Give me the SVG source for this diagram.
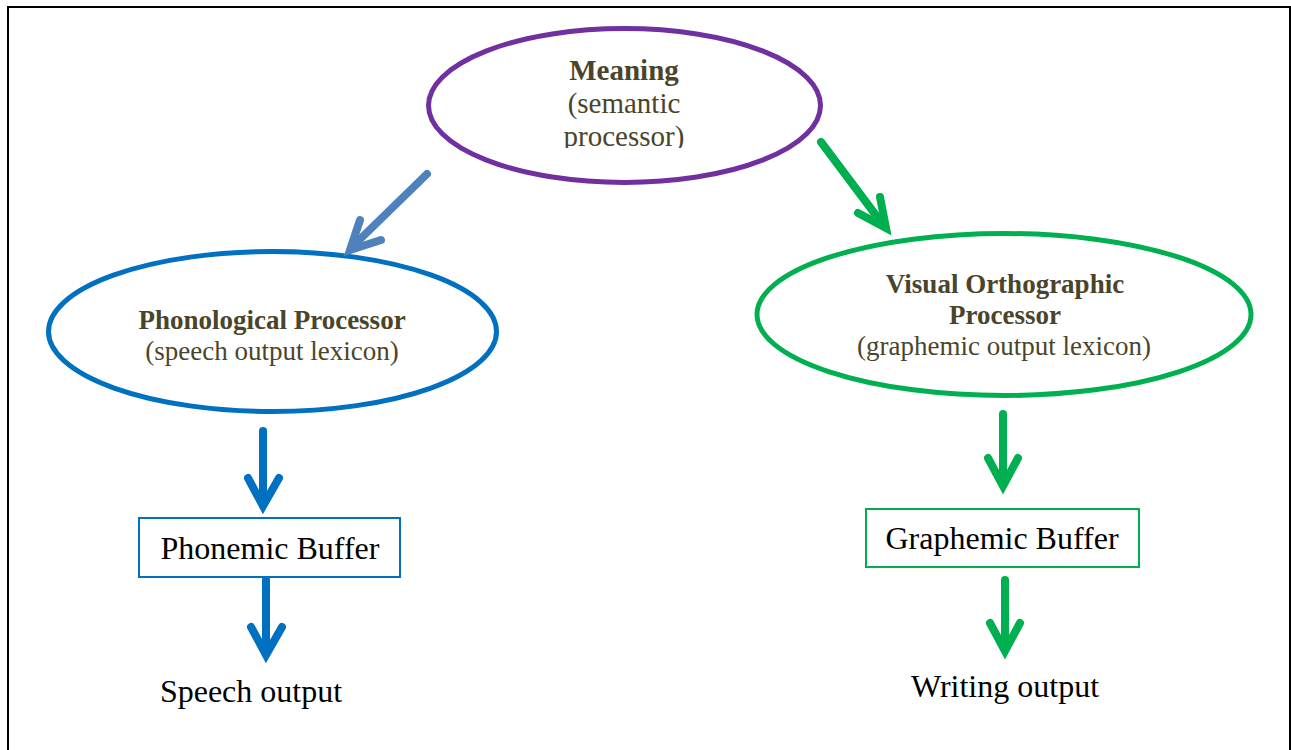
<svg xmlns="http://www.w3.org/2000/svg" width="1291" height="750" viewBox="0 0 1291 750">
<style>
.t{font-family:"Liberation Serif","Times New Roman",serif;text-anchor:middle}
.lab{fill:#4A452A;font-size:27px}
.big{font-size:29px}
.b{font-weight:bold}
.blk{fill:#000;font-size:32px}
.arr{fill:none;stroke-width:8;stroke-linecap:round;stroke-linejoin:miter}
</style>
<defs>
<clipPath id="clipM"><rect x="400" y="20" width="450" height="128"/></clipPath>
</defs>
<rect x="8" y="7" width="1282" height="760" fill="#fff" stroke="#000" stroke-width="2"/>
<g id="meaning">
<ellipse cx="624.5" cy="105.5" rx="196" ry="77" fill="none" stroke="#7030A0" stroke-width="5"/>
<text class="t lab big b" x="624" y="80">Meaning</text>
<g clip-path="url(#clipM)">
<text class="t lab big" x="624" y="113">(semantic</text>
<text class="t lab big" x="624" y="146">processor)</text>
</g>
</g>
<g id="phonological">
<ellipse cx="272.5" cy="331.5" rx="224" ry="80" fill="none" stroke="#0070C0" stroke-width="5"/>
<text class="t lab b" x="272" y="329">Phonological Processor</text>
<text class="t lab" x="272" y="360">(speech output lexicon)</text>
</g>
<g id="orthographic">
<ellipse cx="1004" cy="314.5" rx="247" ry="81" fill="none" stroke="#00B050" stroke-width="5"/>
<text class="t lab b" x="1005" y="293">Visual Orthographic</text>
<text class="t lab b" x="1005" y="324">Processor</text>
<text class="t lab" x="1004" y="355">(graphemic output lexicon)</text>
</g>
<g id="phonemic">
<rect x="139" y="518" width="261" height="59" fill="#fff" stroke="#0070C0" stroke-width="2"/>
<text class="t blk" x="270" y="559">Phonemic Buffer</text>
</g>
<g id="graphemic">
<rect x="866" y="509" width="273" height="58" fill="#fff" stroke="#00B050" stroke-width="2"/>
<text class="t blk" x="1002" y="549">Graphemic Buffer</text>
</g>
<g id="speech">
<text class="t blk" x="251" y="702">Speech output</text>
</g>
<g id="writing">
<text class="t blk" x="1005" y="697">Writing output</text>
</g>
<g id="connectors">
<g stroke="#4F81BD" class="arr">
<line x1="427" y1="174" x2="351" y2="248"/>
<polyline points="360,220 350,250 381,240"/>
</g>
<g stroke="#00B050" class="arr">
<line x1="821" y1="142" x2="884" y2="226"/>
<polyline points="880,197 886,228 858,213"/>
</g>
<g stroke="#0070C0" class="arr">
<line x1="263" y1="431" x2="263" y2="504"/>
<polyline points="248,478 263,506 279,478"/>
<line x1="266" y1="580" x2="266" y2="653"/>
<polyline points="251,627 266,655 282,627"/>
</g>
<g stroke="#00B050" class="arr">
<line x1="1003" y1="414" x2="1003" y2="484"/>
<polyline points="988,458 1003,486 1018,458"/>
<line x1="1005" y1="580" x2="1005" y2="649"/>
<polyline points="990,623 1005,651 1020,623"/>
</g>
</g>
</svg>
